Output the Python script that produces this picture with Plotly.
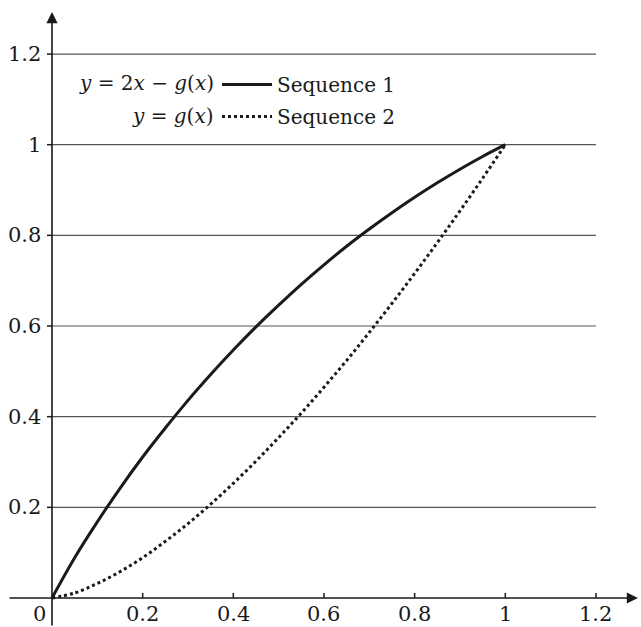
import plotly.graph_objects as go

# ---- data ----
x_vals = [0.0, 0.05, 0.1, 0.15, 0.2, 0.25, 0.3, 0.35, 0.4, 0.45, 0.5,
          0.55, 0.6, 0.65, 0.7, 0.75, 0.8, 0.85, 0.9, 0.95, 1.0]
seq1 = [0.0, 0.089, 0.168, 0.242, 0.311, 0.375, 0.436, 0.493, 0.547, 0.598, 0.646,
        0.692, 0.735, 0.776, 0.814, 0.850, 0.884, 0.916, 0.946, 0.974, 1.0]
seq2 = [0.0, 0.011, 0.032, 0.058, 0.089, 0.125, 0.164, 0.207, 0.253, 0.302, 0.354,
        0.408, 0.465, 0.524, 0.586, 0.650, 0.716, 0.784, 0.854, 0.926, 1.0]
x_ticks = [0.2, 0.4, 0.6, 0.8, 1.0, 1.2]
x_tick_labels = ["0.2", "0.4", "0.6", "0.8", "1", "1.2"]
y_ticks = [0.2, 0.4, 0.6, 0.8, 1.0, 1.2]
y_tick_labels = ["0.2", "0.4", "0.6", "0.8", "1", "1.2"]
series_names = ["Sequence 1", "Sequence 2"]
formula_labels = ["<i>y</i> = 2<i>x</i> − <i>g</i>(<i>x</i>)", "<i>y</i> = <i>g</i>(<i>x</i>)"]

W, H = 641, 627
S = 453.3  # px per unit
X0, Y0 = 52, 598  # origin in px
x_range = [-X0 / S, (W - X0) / S]
y_range = [-(H - Y0) / S, Y0 / S]

FONT = "DejaVu Serif"
AX = "#1a1a1a"

fig = go.Figure()
fig.add_trace(go.Scatter(x=x_vals, y=seq1, mode="lines", name=series_names[0], legendgroup="a",
                         line=dict(color="#1a1a1a", width=3, shape="spline")))
fig.add_trace(go.Scatter(x=x_vals, y=seq2, mode="lines", name=series_names[1], legendgroup="b",
                         line=dict(color="#1a1a1a", width=3, dash="3px,3px", shape="spline")))

shapes = []
for yv in y_ticks:
    shapes.append(dict(type="line", xref="x", yref="y", x0=0, x1=1.2, y0=yv, y1=yv,
                       line=dict(color="#555555", width=1.2), layer="below"))
tl = 5 / S
for yv in y_ticks:
    shapes.append(dict(type="line", xref="x", yref="y", x0=-tl, x1=0, y0=yv, y1=yv,
                       line=dict(color=AX, width=1.5)))
for xv in x_ticks:
    shapes.append(dict(type="line", xref="x", yref="y", x0=xv, x1=xv, y0=0, y1=tl,
                       line=dict(color=AX, width=1.5)))

annotations = []
annotations.append(dict(x=(638 - X0) / S, y=0, ax=(8 - X0) / S, ay=0, xref="x", yref="y",
                        axref="x", ayref="y", text="", showarrow=True, arrowhead=2,
                        arrowsize=1.4, arrowwidth=1.6, arrowcolor=AX))
annotations.append(dict(x=0, y=(Y0 - 12) / S, ax=0, ay=y_range[0], xref="x", yref="y",
                        axref="x", ayref="y", text="", showarrow=True, arrowhead=2,
                        arrowsize=1.4, arrowwidth=1.6, arrowcolor=AX))
for yv, lab in zip(y_ticks, y_tick_labels):
    annotations.append(dict(x=0, y=yv, xref="x", yref="y", text=lab, showarrow=False,
                            xanchor="right", yanchor="middle", xshift=-9,
                            font=dict(family=FONT, size=21, color=AX)))
for xv, lab in zip(x_ticks, x_tick_labels):
    annotations.append(dict(x=xv, y=0, xref="x", yref="y", text=lab, showarrow=False,
                            xanchor="center", yanchor="top", yshift=-2,
                            font=dict(family=FONT, size=21, color=AX)))
annotations.append(dict(x=0, y=0, xref="x", yref="y", text="0", showarrow=False,
                        xanchor="right", yanchor="top", xshift=-4, yshift=-2,
                        font=dict(family=FONT, size=21, color=AX)))
for i, lab in enumerate(formula_labels):
    ypx = 83 + 33 * i
    annotations.append(dict(x=(216 - X0) / S, y=(Y0 - ypx) / S, xref="x", yref="y", text=lab,
                            showarrow=False, xanchor="right", yanchor="middle",
                            font=dict(family=FONT, size=20, color=AX)))

fig.update_layout(
    width=W, height=H, autosize=False,
    margin=dict(l=0, r=0, t=0, b=0, pad=0),
    paper_bgcolor="white", plot_bgcolor="white",
    xaxis=dict(range=x_range, visible=False, fixedrange=True),
    yaxis=dict(range=y_range, visible=False, fixedrange=True),
    shapes=shapes, annotations=annotations,
    showlegend=True,
    legend=dict(x=217 / W, y=1 - 65 / H, xanchor="left", yanchor="top",
                bgcolor="rgba(0,0,0,0)", borderwidth=0, itemwidth=50,
                font=dict(family=FONT, size=20, color=AX), tracegroupgap=3),
)

fig.write_html("out.html", config={"displayModeBar": False},
               post_script="document.body.style.margin='0';document.body.style.overflow='hidden';")
